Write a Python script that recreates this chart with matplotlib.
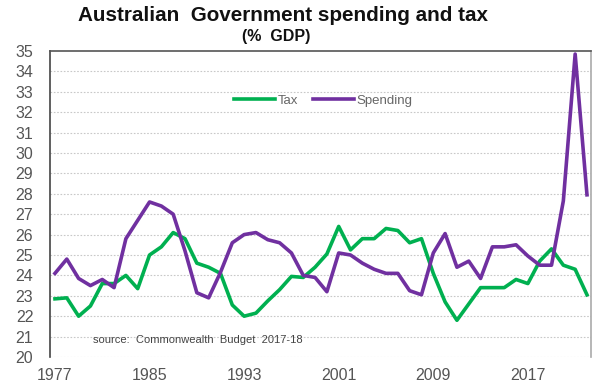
import numpy as np
import matplotlib
matplotlib.use("Agg")
import matplotlib.pyplot as plt

plt.rcParams['font.family'] = ['Liberation Sans', 'DejaVu Sans']

# % of GDP, financial years ending 1977 .. 2022
years = list(range(1977, 2023))
tax = [22.85, 22.9, 22.0, 22.5, 23.6, 23.6, 24.0, 23.35, 25.0, 25.4,
       26.1, 25.8, 24.6, 24.4, 24.1, 22.55, 22.0, 22.15, 22.75, 23.3,
       23.95, 23.9, 24.4, 25.05, 26.4, 25.25, 25.8, 25.8, 26.3, 26.2,
       25.6, 25.8, 24.1, 22.7, 21.8, 22.6, 23.4, 23.4, 23.4, 23.8,
       23.6, 24.7, 25.3, 24.5, 24.3, 23.05]
spending = [24.1, 24.8, 23.85, 23.5, 23.8, 23.4, 25.8, 26.7, 27.6, 27.4,
            27.0, 25.2, 23.15, 22.9, 24.15, 25.6, 26.0, 26.1, 25.75, 25.6,
            25.1, 24.0, 23.9, 23.2, 25.1, 25.0, 24.6, 24.3, 24.1, 24.1,
            23.25, 23.05, 25.1, 26.05, 24.4, 24.7, 23.85, 25.4, 25.4, 25.5,
            24.95, 24.5, 24.5, 27.65, 34.85, 27.95]
xticks = [1977, 1985, 1993, 2001, 2009, 2017]

fig = plt.figure(figsize=(5.92, 3.88), dpi=100)
ax = fig.add_axes([50 / 592, 31 / 388, 541 / 592, 306 / 388])

green = '#00B050'
purple = '#7030A0'
ax.plot(years, tax, color=green, lw=2.6, label='Tax', solid_joinstyle='round')
ax.plot(years, spending, color=purple, lw=2.6, label='Spending', solid_joinstyle='round')

ax.set_xlim(1976.58, 2022.34)
ax.set_ylim(20, 35)
ax.set_yticks(range(20, 36))
ax.set_xticks(xticks)
ax.tick_params(length=0, labelsize=11.5, labelcolor='#555555')
ax.tick_params(axis='y', pad=12)
ax.tick_params(axis='x', pad=8)

# dotted horizontal gridlines
for y in range(20, 35):
    ax.axhline(y, color='#c8c8c8', lw=0.8, ls=(0, (1.5, 1.5)), zorder=0)

ax.spines['bottom'].set_visible(False)
ax.spines['top'].set_color('#555555')
ax.spines['left'].set_color('#444444')
ax.spines['right'].set_color('#aaaaaa')
for s in ['top', 'left', 'right']:
    ax.spines[s].set_linewidth(1.2)

ax.legend(loc='center', bbox_to_anchor=(0.505, 0.837), ncol=2, frameon=False,
          fontsize=9.5, handlelength=3.1, handletextpad=0.2, columnspacing=1.1,
          labelcolor='#666666')

ax.text(0.08, 0.056, 'source:  Commonwealth  Budget  2017-18', transform=ax.transAxes,
        fontsize=8, color='#444444', va='center')

fig.text(283 / 592, 0.96, 'Australian  Government spending and tax', ha='center', va='center',
         fontsize=14.9, fontweight='bold', color='#111111')
fig.text(276 / 592, 0.906, '(%  GDP)', ha='center', va='center',
         fontsize=11.5, fontweight='bold', color='#111111')

fig.savefig('out.png', dpi=100)
